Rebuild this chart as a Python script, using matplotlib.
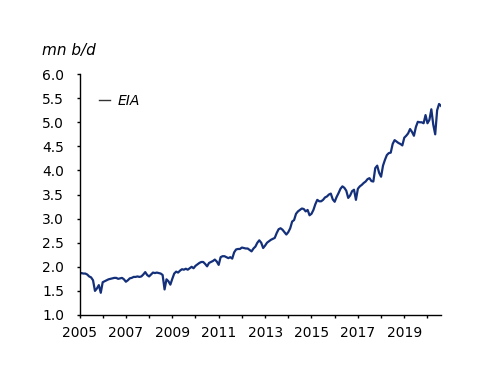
import matplotlib
matplotlib.use("Agg")
import matplotlib.pyplot as plt
import numpy as np

start_year = 2005
values_2005 = [1.85, 1.87, 1.86, 1.86, 1.84, 1.80, 1.78, 1.72, 1.50, 1.55, 1.62, 1.46]
values_2006 = [1.68, 1.70, 1.72, 1.74, 1.75, 1.76, 1.77, 1.77, 1.75, 1.76, 1.77, 1.74]
values_2007 = [1.69, 1.72, 1.76, 1.77, 1.79, 1.79, 1.80, 1.79, 1.80, 1.84, 1.89, 1.83]
values_2008 = [1.80, 1.84, 1.88, 1.87, 1.88, 1.87, 1.86, 1.83, 1.53, 1.74, 1.70, 1.63]
values_2009 = [1.75, 1.86, 1.90, 1.88, 1.92, 1.95, 1.94, 1.96, 1.94, 1.97, 2.00, 1.97]
values_2010 = [2.02, 2.05, 2.08, 2.10, 2.10, 2.06, 2.01, 2.08, 2.10, 2.12, 2.15, 2.11]
values_2011 = [2.04, 2.20, 2.22, 2.22, 2.20, 2.18, 2.20, 2.17, 2.30, 2.36, 2.37, 2.37]
values_2012 = [2.40, 2.39, 2.38, 2.38, 2.35, 2.32, 2.38, 2.42, 2.50, 2.55, 2.50, 2.39]
values_2013 = [2.44, 2.50, 2.53, 2.56, 2.58, 2.60, 2.70, 2.78, 2.80, 2.77, 2.72, 2.67]
values_2014 = [2.72, 2.80, 2.94, 2.97, 3.10, 3.15, 3.18, 3.21, 3.20, 3.15, 3.18, 3.07]
values_2015 = [3.10, 3.18, 3.30, 3.39, 3.36, 3.36, 3.39, 3.44, 3.46, 3.50, 3.52, 3.40]
values_2016 = [3.35, 3.45, 3.53, 3.62, 3.67, 3.64, 3.58, 3.43, 3.48, 3.57, 3.60, 3.39]
values_2017 = [3.62, 3.67, 3.70, 3.74, 3.77, 3.82, 3.84, 3.78, 3.77, 4.05, 4.10, 3.95]
values_2018 = [3.87, 4.10, 4.22, 4.32, 4.36, 4.37, 4.55, 4.63, 4.60, 4.57, 4.55, 4.52]
values_2019 = [4.68, 4.72, 4.77, 4.86, 4.80, 4.72, 4.90, 5.01, 5.00, 5.00, 4.98, 5.15]
values_2020 = [4.98, 5.05, 5.27, 4.95, 4.75, 5.25, 5.38, 5.34]

series = (values_2005 + values_2006 + values_2007 + values_2008 + values_2009 +
          values_2010 + values_2011 + values_2012 + values_2013 + values_2014 +
          values_2015 + values_2016 + values_2017 + values_2018 + values_2019 +
          values_2020)
t = start_year + np.arange(len(series)) / 12.0

year_labels = [2005, 2007, 2009, 2011, 2013, 2015, 2017, 2019]
minor_years = [2006, 2008, 2010, 2012, 2014, 2016, 2018, 2020]
y_ticks = [1.0, 1.5, 2.0, 2.5, 3.0, 3.5, 4.0, 4.5, 5.0, 5.5, 6.0]

line_color = "#14307a"

fig = plt.figure(figsize=(5, 3.86), dpi=100)
ax = fig.add_axes([0.159, 0.184, 0.723, 0.624])
ax.plot(t, series, color=line_color, lw=1.6, label="EIA")

ax.set_xlim(start_year, t[-1])
ax.set_ylim(1.0, 6.0)
ax.set_yticks(y_ticks)
ax.set_yticklabels([f"{v:.1f}" for v in y_ticks])
ax.set_xticks(year_labels)
ax.set_xticklabels([str(y) for y in year_labels])
ax.set_xticks(minor_years, minor=True)

for s in ["top", "right"]:
    ax.spines[s].set_visible(False)
for s in ["left", "bottom"]:
    ax.spines[s].set_linewidth(1.0)
    ax.spines[s].set_color("black")
ax.tick_params(axis="both", which="both", direction="out", length=2.5, width=1.0,
               labelsize=10, colors="black")
ax.tick_params(axis="y", which="both", pad=8.5)
ax.tick_params(axis="x", which="both", pad=5.5)

fig.text(0.084, 0.868, "mn b/d", fontsize=11, fontstyle="italic",
         ha="left", va="center")

leg = ax.legend(loc="upper left", bbox_to_anchor=(0.02, 0.97), frameon=False,
                handlelength=0.8, handletextpad=0.5, prop={"size": 10, "style": "italic"})
for h in leg.get_lines():
    h.set_linewidth(1.0)
    h.set_color("#333333")

fig.savefig("out.png", dpi=100)
